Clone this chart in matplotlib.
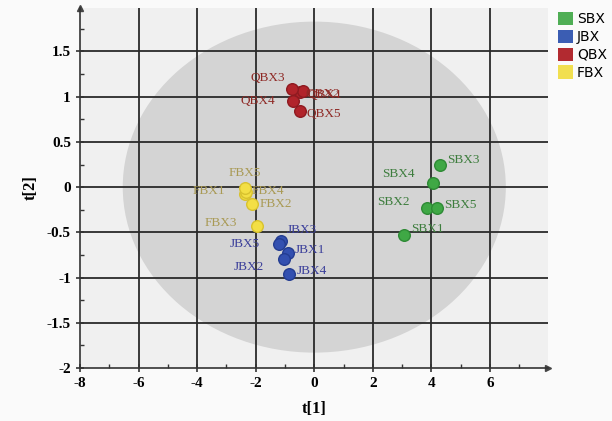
import numpy as np
import matplotlib.pyplot as plt
from matplotlib.patches import Ellipse, Patch

plt.rcParams["axes.unicode_minus"] = False

# score values
sbx_names = ["SBX1", "SBX2", "SBX3", "SBX4", "SBX5"]
sbx_t1 = [3.08, 3.84, 4.29, 4.04, 4.20]
sbx_t2 = [-0.53, -0.23, 0.24, 0.05, -0.23]

jbx_names = ["JBX1", "JBX2", "JBX3", "JBX4", "JBX5"]
jbx_t1 = [-0.91, -1.03, -1.14, -0.85, -1.19]
jbx_t2 = [-0.73, -0.79, -0.60, -0.96, -0.63]

qbx_names = ["QBX1", "QBX2", "QBX3", "QBX4", "QBX5"]
qbx_t1 = [-0.48, -0.40, -0.76, -0.73, -0.50]
qbx_t2 = [1.05, 1.06, 1.08, 0.95, 0.84]

fbx_names = ["FBX1", "FBX2", "FBX3", "FBX4", "FBX5"]
fbx_t1 = [-2.36, -2.12, -1.94, -2.34, -2.36]
fbx_t2 = [-0.08, -0.19, -0.43, -0.05, -0.01]

groups = ["SBX", "JBX", "QBX", "FBX"]

# Hotelling T2 ellipse semi axes
ell_a = 6.54
ell_b = 1.83

# label offsets (points)
offsets = {
    "SBX1": (5, 2), "SBX2": (-36, 2), "SBX3": (5, 2), "SBX4": (-36, 4), "SBX5": (5, 0),
    "JBX1": (5, 0), "JBX2": (-36, -8), "JBX3": (4, 6), "JBX4": (5, 0), "JBX5": (-36, -2),
    "QBX1": (5, -4), "QBX2": (2, -4), "QBX3": (-30, 6), "QBX4": (-38, -2), "QBX5": (5, -4),
    "FBX1": (-38, 0), "FBX2": (5, -2), "FBX3": (-38, 0), "FBX4": (4, -2), "FBX5": (-12, 9),
}

face = {"SBX": "#3fa845", "JBX": "#3350b0", "QBX": "#b1242b", "FBX": "#f3df45"}
edge = {"SBX": "#2e8a35", "JBX": "#243d92", "QBX": "#8e1a20", "FBX": "#d8c22e"}
txt = {"SBX": "#3d7d3d", "JBX": "#3b3f9a", "QBX": "#8f2a26", "FBX": "#a99a55"}
legend_col = {"SBX": "#4fae55", "JBX": "#3b5db3", "QBX": "#b22a30", "FBX": "#f1df50"}

serif = ["Liberation Serif", "DejaVu Serif"]

fig = plt.figure(figsize=(6.12, 4.21), dpi=100, facecolor="#fafafa")
ax = fig.add_axes([0.1307, 0.1259, 0.7647, 0.855])
ax.set_facecolor("#f0f0f0")

ax.add_patch(Ellipse((0, 0), 2 * ell_a, 2 * ell_b, facecolor="#d4d4d4",
                     edgecolor="none", zorder=0))

ax.set_xlim(-8, 7.98)
ax.set_ylim(-2, 1.98)
ax.set_xticks(np.arange(-8, 7, 2))
ax.set_yticks(np.arange(-2, 1.6, 0.5))
ax.set_xticks(np.arange(-7, 8, 2), minor=True)
ax.set_yticks(np.arange(-1.75, 2.0, 0.25), minor=True)
ax.set_yticklabels(["-2", "-1.5", "-1", "-0.5", "0", "0.5", "1", "1.5"])

for v in range(-6, 8, 2):
    ax.axvline(v, color="#2a2a2a", lw=1.3, zorder=1)
for v in [-1.5, -1, -0.5, 0, 0.5, 1, 1.5]:
    ax.axhline(v, color="#2a2a2a", lw=1.3, zorder=1)

for s in ["top", "right"]:
    ax.spines[s].set_visible(False)
for s in ["left", "bottom"]:
    ax.spines[s].set_color("#333333")
    ax.spines[s].set_linewidth(1.2)

ax.tick_params(which="major", direction="inout", length=6, width=1.2, color="#333333")
ax.tick_params(which="minor", direction="in", length=3, width=1, color="#333333")
for lab in ax.get_xticklabels() + ax.get_yticklabels():
    lab.set_family(serif)
    lab.set_fontweight("bold")
    lab.set_fontsize(11)

# axis arrows
ax.plot([1], [0], ">", transform=ax.transAxes, color="#444444", ms=5, clip_on=False)
ax.plot([0], [1], "^", transform=ax.transAxes, color="#444444", ms=5, clip_on=False)

ax.set_xlabel("t[1]", family=serif, fontweight="bold", fontsize=12, labelpad=8)
ax.set_ylabel("t[2]", family=serif, fontweight="bold", fontsize=12, labelpad=6)

data = {
    "SBX": (sbx_names, sbx_t1, sbx_t2),
    "JBX": (jbx_names, jbx_t1, jbx_t2),
    "QBX": (qbx_names, qbx_t1, qbx_t2),
    "FBX": (fbx_names, fbx_t1, fbx_t2),
}

for g in groups:
    names, xs, ys = data[g]
    ax.scatter(xs, ys, s=70, color=face[g], edgecolors=edge[g], linewidths=1, zorder=3)
    for n, x, y in zip(names, xs, ys):
        ax.annotate(n, (x, y), xytext=offsets[n], textcoords="offset points",
                    family=serif, fontsize=9.5, color=txt[g], zorder=4)

handles = [Patch(facecolor=legend_col[g], edgecolor="none", label=g) for g in groups]
fig.legend(handles=handles, loc="upper left", bbox_to_anchor=(0.903, 0.985),
           frameon=False, handlelength=1.1, handleheight=1.1, handletextpad=0.25,
           labelspacing=0.25, fontsize=10, borderaxespad=0)

fig.savefig("out.png", dpi=100, facecolor=fig.get_facecolor())
